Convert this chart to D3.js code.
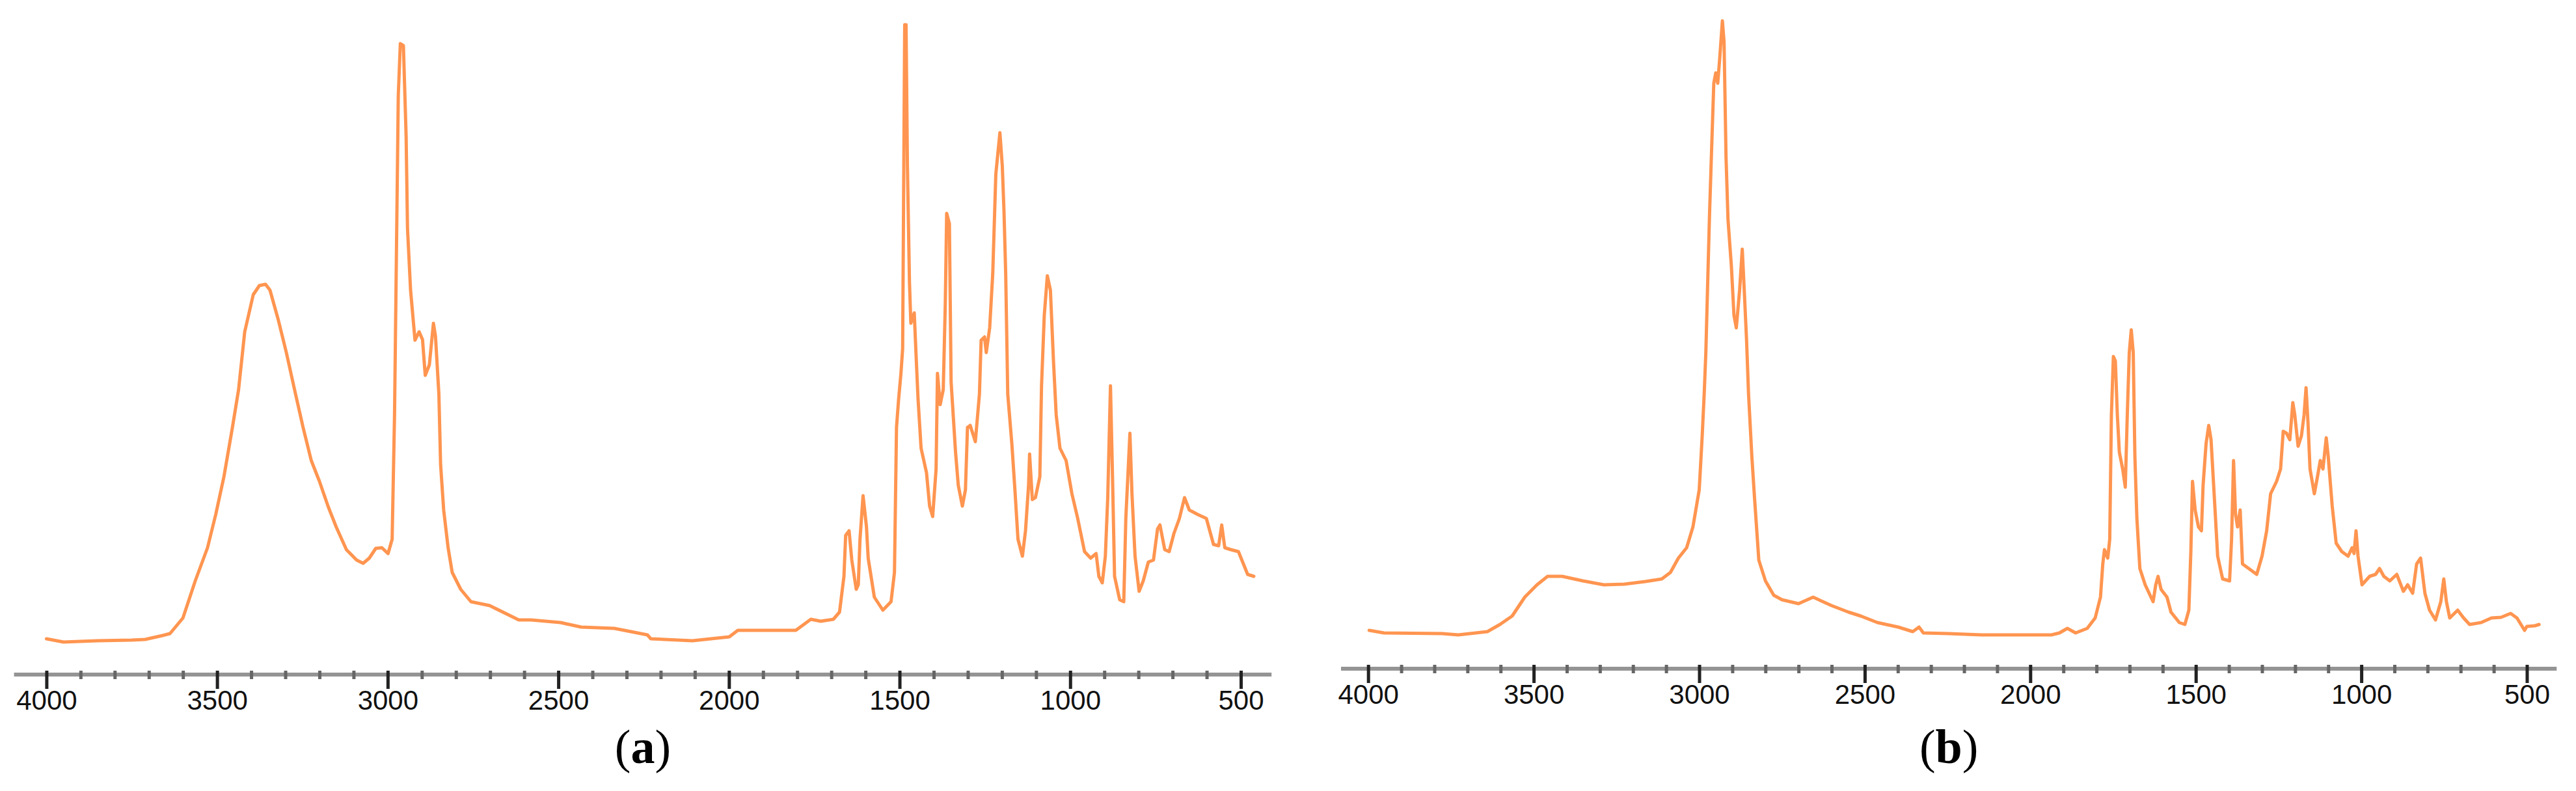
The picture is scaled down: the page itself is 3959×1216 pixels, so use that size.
<!DOCTYPE html>
<html>
<head>
<meta charset="utf-8">
<script src="https://cdn.jsdelivr.net/npm/d3@7"></script>
<style>
  html, body { margin: 0; padding: 0; background: #ffffff; }
  svg { display: block; }
</style>
</head>
<body>
<svg id="chart" width="3959" height="1216"></svg>
<script>
// ---------- data ----------
const majorTicks = [4000, 3500, 3000, 2500, 2000, 1500, 1000, 500];
const minorTicks = d3.range(4000, 499, -100).filter(v => v % 500 !== 0);

const panelLabels = ["a", "b"];

// Panel (a): wavenumber (cm-1) and relative absorbance
const wavenumbersA = [4000,3950,3850,3750,3711,3660,3638,3600,3564,3528,3504,3480,3455,3437,3419,3394,3376,3358,3345,3321,3297,3273,3248,3224,3200,3175,3151,3121,3091,3072,3054,3035,3017,2999,2987,2980,2975,2969,2963,2954,2946,2942,2933,2920,2908,2898,2890,2878,2866,2860,2850,2845,2836,2823,2811,2786,2756,2701,2616,2580,2494,2433,2336,2239,2229,2107,1999,1974,1804,1760,1731,1694,1676,1663,1658,1648,1640,1627,1621,1616,1607,1597,1592,1574,1549,1525,1515,1509,1503,1496,1491,1485,1481,1477,1471,1467,1457,1452,1446,1437,1421,1412,1403,1393,1389,1381,1372,1366,1362,1354,1349,1336,1328,1316,1307,1301,1293,1278,1266,1261,1251,1246,1236,1227,1218,1206,1199,1194,1189,1183,1171,1162,1153,1140,1131,1122,1119,1111,1102,1089,1084,1076,1067,1058,1049,1041,1030,1012,995,978,958,940,924,916,906,897,890,882,876,870,855,843,837,825,819,810,798,786,771,756,744,737,723,710,696,680,665,651,626,601,580,565,556,547,529,507,480,462];
const absorbanceA = [0.055,0.050,0.052,0.053,0.054,0.060,0.063,0.087,0.144,0.195,0.246,0.304,0.380,0.438,0.527,0.584,0.598,0.600,0.591,0.546,0.495,0.438,0.380,0.329,0.297,0.259,0.227,0.192,0.176,0.171,0.179,0.194,0.195,0.186,0.208,0.399,0.622,0.890,0.970,0.967,0.827,0.686,0.591,0.514,0.527,0.515,0.460,0.476,0.540,0.520,0.431,0.323,0.253,0.195,0.157,0.131,0.112,0.106,0.084,0.084,0.080,0.073,0.071,0.061,0.055,0.052,0.058,0.068,0.068,0.085,0.082,0.085,0.096,0.151,0.214,0.221,0.176,0.131,0.138,0.208,0.275,0.227,0.179,0.119,0.099,0.112,0.157,0.380,0.422,0.463,0.501,0.999,0.999,0.782,0.603,0.540,0.556,0.495,0.425,0.348,0.310,0.259,0.243,0.316,0.463,0.415,0.438,0.571,0.709,0.693,0.450,0.342,0.291,0.259,0.284,0.380,0.383,0.358,0.431,0.514,0.519,0.495,0.533,0.616,0.769,0.833,0.782,0.712,0.616,0.431,0.355,0.284,0.208,0.182,0.221,0.291,0.339,0.269,0.272,0.304,0.444,0.552,0.613,0.591,0.482,0.399,0.348,0.329,0.278,0.240,0.189,0.179,0.186,0.151,0.141,0.182,0.272,0.444,0.304,0.151,0.115,0.112,0.240,0.371,0.278,0.182,0.128,0.144,0.173,0.176,0.224,0.230,0.192,0.189,0.217,0.240,0.272,0.253,0.246,0.240,0.200,0.198,0.230,0.195,0.192,0.189,0.154,0.151];

// Panel (b): wavenumber (cm-1) and relative absorbance
const wavenumbersB = [3997,3952,3777,3728,3640,3602,3565,3527,3490,3458,3414,3351,3288,3226,3163,3113,3087,3063,3038,3019,3000,2991,2985,2980,2975,2969,2963,2956,2950,2944,2938,2930,2925,2919,2913,2903,2895,2888,2878,2870,2864,2857,2851,2841,2833,2820,2800,2775,2750,2700,2656,2600,2549,2512,2462,2399,2355,2336,2323,2248,2147,1936,1912,1888,1863,1828,1804,1788,1781,1776,1766,1760,1755,1749,1743,1737,1731,1721,1713,1707,1701,1695,1689,1684,1678,1669,1653,1629,1621,1614,1605,1587,1575,1550,1533,1521,1515,1510,1502,1492,1483,1478,1469,1461,1454,1444,1434,1419,1398,1392,1386,1380,1374,1366,1359,1340,1316,1300,1286,1274,1256,1244,1236,1226,1216,1207,1201,1191,1181,1173,1167,1161,1155,1142,1134,1124,1116,1106,1100,1088,1076,1059,1040,1028,1022,1016,1010,998,975,957,945,932,914,893,873,860,845,833,821,808,794,776,760,751,743,733,709,691,673,638,607,578,549,530,507,500,476,463];
const absorbanceB = [0.059,0.055,0.054,0.052,0.057,0.068,0.081,0.110,0.129,0.142,0.142,0.135,0.129,0.130,0.134,0.138,0.148,0.170,0.186,0.218,0.275,0.358,0.422,0.486,0.582,0.696,0.792,0.900,0.916,0.900,0.939,0.996,0.964,0.786,0.690,0.620,0.543,0.524,0.582,0.645,0.582,0.505,0.422,0.326,0.263,0.167,0.135,0.113,0.106,0.100,0.110,0.097,0.087,0.081,0.071,0.064,0.057,0.064,0.055,0.054,0.052,0.052,0.055,0.062,0.055,0.062,0.078,0.110,0.161,0.183,0.170,0.199,0.390,0.480,0.473,0.390,0.333,0.307,0.279,0.390,0.486,0.521,0.486,0.326,0.231,0.154,0.129,0.103,0.129,0.142,0.122,0.110,0.087,0.071,0.068,0.090,0.180,0.288,0.244,0.218,0.212,0.282,0.346,0.374,0.352,0.263,0.173,0.138,0.135,0.199,0.320,0.237,0.218,0.244,0.161,0.154,0.145,0.173,0.212,0.269,0.288,0.307,0.365,0.362,0.352,0.409,0.390,0.342,0.358,0.390,0.432,0.377,0.307,0.269,0.291,0.320,0.307,0.355,0.326,0.250,0.193,0.180,0.173,0.186,0.177,0.212,0.173,0.129,0.142,0.145,0.154,0.142,0.135,0.145,0.119,0.129,0.116,0.161,0.170,0.116,0.090,0.075,0.103,0.138,0.103,0.078,0.090,0.078,0.068,0.071,0.078,0.079,0.085,0.078,0.059,0.065,0.066,0.068];

// ---------- layout ----------
const svg = d3.select("#chart");
svg.append("rect").attr("width", 3959).attr("height", 1216).attr("fill", "#ffffff");

const panels = [
  { label: panelLabels[0], wn: wavenumbersA, ab: absorbanceA,
    x0: 71.4, x1: 1907, axisY: 1037, lineFrom: 4095, lineTo: 410 },
  { label: panelLabels[1], wn: wavenumbersB, ab: absorbanceB,
    x0: 2102.7, x1: 3883.5, axisY: 1028, lineFrom: 4082, lineTo: 410 }
];

panels.forEach(p => {
  const x = d3.scaleLinear().domain([4000, 500]).range([p.x0, p.x1]);
  const y = d3.scaleLinear().domain([0, 1]).range([p.axisY, p.axisY - 1000]);
  const g = svg.append("g");

  // spectrum
  const data = p.wn.map((w, i) => [w, p.ab[i]]);
  g.append("path")
    .datum(data)
    .attr("fill", "none")
    .attr("stroke", "#ff9550")
    .attr("stroke-width", 5)
    .attr("stroke-linejoin", "round")
    .attr("stroke-linecap", "round")
    .attr("d", d3.line().x(d => x(d[0])).y(d => y(d[1])));

  // axis base line
  g.append("line")
    .attr("x1", x(p.lineFrom)).attr("x2", x(p.lineTo))
    .attr("y1", p.axisY).attr("y2", p.axisY)
    .attr("stroke", "#949494").attr("stroke-width", 6);

  // minor ticks
  const minorAxis = d3.axisBottom(x).tickValues(minorTicks).tickSize(13).tickFormat("");
  const gm = g.append("g").attr("transform", `translate(0,${p.axisY - 6})`).call(minorAxis);
  gm.select(".domain").remove();
  gm.selectAll(".tick line").attr("stroke", "#666666").attr("stroke-width", 5);

  // major ticks + labels
  const majorAxis = d3.axisBottom(x).tickValues(majorTicks).tickSize(28).tickFormat(d3.format("d"));
  const ga = g.append("g").attr("transform", `translate(0,${p.axisY - 6})`).call(majorAxis);
  ga.select(".domain").remove();
  ga.selectAll(".tick line").attr("stroke", "#222222").attr("stroke-width", 5);
  ga.selectAll(".tick text")
    .attr("y", 60).attr("dy", null)
    .attr("fill", "#111111")
    .style("font-family", "'Liberation Sans', Arial, sans-serif")
    .style("font-size", "42px");

  // panel label
  const cx = (x(p.lineFrom) + x(p.lineTo)) / 2;
  const t = svg.append("text")
    .attr("x", cx).attr("y", 1173)
    .attr("text-anchor", "middle")
    .style("font-family", "'Liberation Serif', 'Times New Roman', serif")
    .style("font-size", "74px")
    .attr("fill", "#000000");
  t.append("tspan").text("(");
  t.append("tspan").style("font-weight", "bold").text(p.label);
  t.append("tspan").text(")");
});
</script>
</body>
</html>
